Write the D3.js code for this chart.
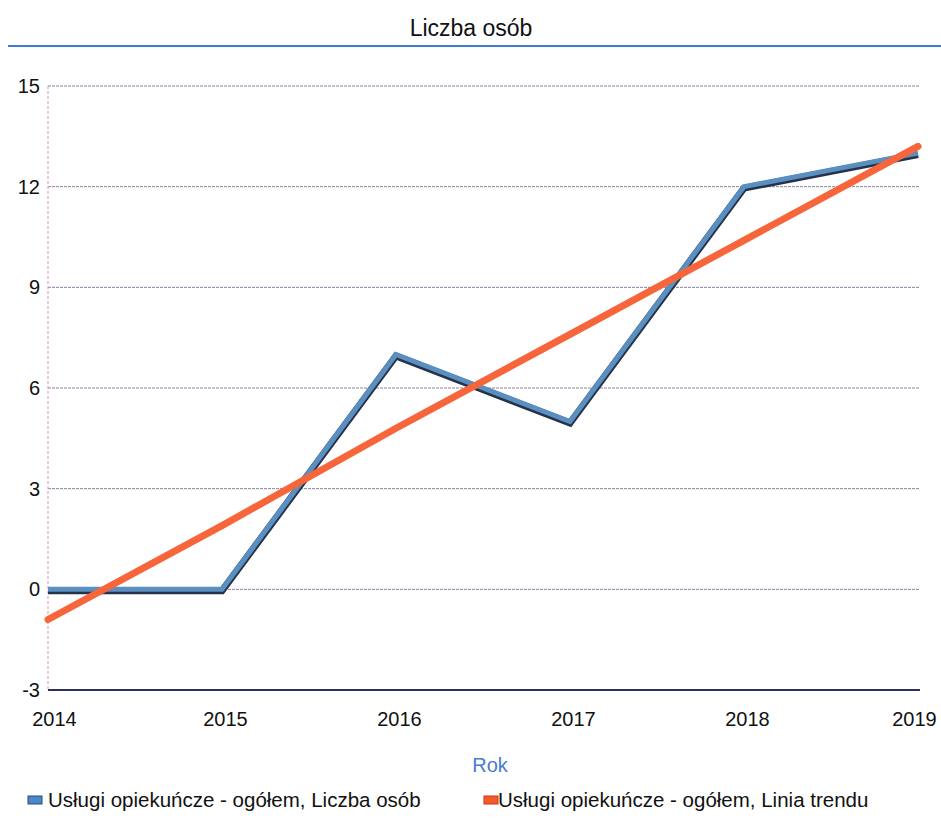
<!DOCTYPE html>
<html><head><meta charset="utf-8">
<script src="https://cdn.jsdelivr.net/npm/d3@7"></script>
<style>body{margin:0;background:#fff;font-family:"Liberation Sans",Arial,sans-serif}</style>
</head><body><svg id="c" width="941" height="823"></svg>
<script>
const years = ["2014","2015","2016","2017","2018","2019"];
const seriesValues = [0, 0, 7, 5, 12, 13];
const trendValues = [-0.9, 1.9, 4.8, 7.6, 10.4, 13.2];
const yTicks = [-3, 0, 3, 6, 9, 12, 15];
const seriesName = "Usługi opiekuńcze - ogółem, Liczba osób";
const trendName = "Usługi opiekuńcze - ogółem, Linia trendu";

const svg = d3.select("#c");
const x = d3.scalePoint().domain(years).range([48, 918]);
const y = d3.scaleLinear().domain([-3, 15]).range([690, 86]);

svg.append("text").attr("x", 471).attr("y", 36).attr("text-anchor","middle")
  .attr("font-size", 23).attr("fill","#111").text("Liczba osób");
svg.append("line").attr("x1",8).attr("x2",941).attr("y1",46).attr("y2",46)
  .attr("stroke","#3d7ad6").attr("stroke-width",2);

// gridlines
svg.append("g").selectAll("line").data(yTicks.filter(d=>d>-3)).join("line")
  .attr("x1", 48).attr("x2", 920).attr("y1", d=>y(d)).attr("y2", d=>y(d))
  .attr("stroke","#8a7f9e").attr("stroke-width",1).attr("stroke-dasharray","3,1");
// left axis
svg.append("line").attr("x1",48).attr("x2",48).attr("y1",y(15)).attr("y2",y(-3))
  .attr("stroke","#d9a6c8").attr("stroke-width",1.2).attr("stroke-dasharray","3,2");
// bottom axis
svg.append("line").attr("x1",48).attr("x2",920).attr("y1",y(-3)).attr("y2",y(-3))
  .attr("stroke","#2b2f5a").attr("stroke-width",2);

const yAxis = d3.axisLeft(y).tickValues(yTicks).tickFormat(d=>String(d)).tickSize(0).tickPadding(8);
svg.append("g").attr("transform","translate(48,0)").call(yAxis)
  .call(g=>g.select(".domain").remove())
  .selectAll("text").attr("font-size",20).attr("fill","#111").attr("font-family","Liberation Sans, Arial, sans-serif");

const xAxis = d3.axisBottom(x).tickSize(0).tickPadding(22);
const gx = svg.append("g").attr("transform",`translate(0,${y(-3)})`).call(xAxis);
gx.select(".domain").remove();
gx.selectAll("text").attr("font-size",20).attr("fill","#111").attr("font-family","Liberation Sans, Arial, sans-serif")
  .attr("dx", (d,i)=> i===0 ? 6 : (i===years.length-1 ? -4 : 3));

svg.append("text").attr("x",490).attr("y",772).attr("text-anchor","middle")
  .attr("font-size",20).attr("fill","#4a7cc9").text("Rok");

const line = d3.line().x((d,i)=>x(years[i])).y(d=>y(d));
svg.append("path").datum(seriesValues).attr("d",line).attr("fill","none")
  .attr("stroke","#263247").attr("stroke-width",7).attr("transform","translate(0,1.5)");
svg.append("path").datum(seriesValues).attr("d",line).attr("fill","none")
  .attr("stroke","#5a8fc2").attr("stroke-width",5);
svg.append("path").datum(trendValues).attr("d",line).attr("fill","none")
  .attr("stroke","#f7653a").attr("stroke-width",7).attr("stroke-linecap","round");

// legend
const lg = svg.append("g");
lg.append("rect").attr("x",28).attr("y",796).attr("width",14).attr("height",8).attr("fill","#4a86c8").attr("stroke","#2a4a80").attr("stroke-width",1);
lg.append("text").attr("x",48).attr("y",807).attr("font-size",20.5).attr("fill","#111").text(seriesName);
lg.append("rect").attr("x",484).attr("y",796).attr("width",14).attr("height",8).attr("fill","#f25a2c").attr("stroke","#c83a10").attr("stroke-width",1);
lg.append("text").attr("x",498).attr("y",807).attr("font-size",20.5).attr("fill","#111").text(trendName);
</script></body></html>
